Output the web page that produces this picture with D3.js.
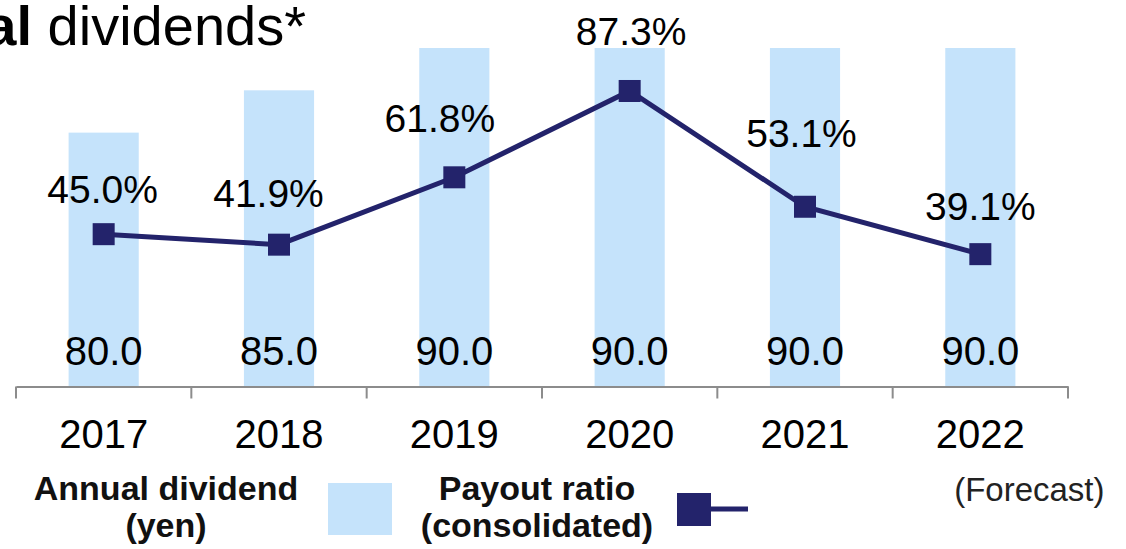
<!DOCTYPE html>
<html>
<head>
<meta charset="utf-8">
<script src="https://cdn.jsdelivr.net/npm/d3@7"></script>
<style>
  html, body { margin: 0; padding: 0; background: #fff; }
  text { font-family: "Liberation Sans", Arial, sans-serif; }
</style>
</head>
<body>
<div id="chart"></div>
<script>
// chart data
var years = ["2017", "2018", "2019", "2020", "2021", "2022"];
var dividends = [80.0, 85.0, 90.0, 90.0, 90.0, 90.0];
var payoutRatios = [45.0, 41.9, 61.8, 87.3, 53.1, 39.1];
var forecastNote = "(Forecast)";
var dividendLegend = ["Annual dividend", "(yen)"];
var payoutLegend = ["Payout ratio", "(consolidated)"];

var width = 1126,
    height = 549,
    axisY = 386.5;

var barColor = "#c5e3fb",
    lineColor = "#23236b";

var svg = d3.select("#chart").append("svg")
    .attr("width", width)
    .attr("height", height);

// set the ranges
var x = d3.scaleBand()
    .domain(years)
    .range([16, 1068]);
var yBar = d3.scaleLinear()
    .domain([50, 90])
    .range([axisY, 48]);
var yLine = d3.scaleLinear()
    .domain([0, 100])
    .range([axisY, 48]);

var barW = x.bandwidth() * 0.4;
function cx(d) { return x(d) + x.bandwidth() / 2; }

// title, cut off at the left edge like the original
svg.append("text")
    .attr("x", 306)
    .attr("y", 45)
    .attr("text-anchor", "end")
    .style("font-size", "56px")
    .call(function (t) {
        t.append("tspan").style("font-weight", "bold").text("Annual");
        t.append("tspan").text(" dividends*");
    });

// bars
svg.selectAll(".bar")
    .data(years)
    .enter().append("rect")
    .attr("class", "bar")
    .attr("x", function (d) { return cx(d) - barW / 2; })
    .attr("width", barW)
    .attr("y", function (d, i) { return yBar(dividends[i]); })
    .attr("height", function (d, i) { return axisY - yBar(dividends[i]); })
    .attr("fill", barColor);

// dividend labels sit at the bottom of each bar
svg.selectAll(".barLabel")
    .data(years)
    .enter().append("text")
    .attr("class", "barLabel")
    .attr("x", cx)
    .attr("y", 365)
    .attr("text-anchor", "middle")
    .style("font-size", "40px")
    .text(function (d, i) { return d3.format(".1f")(dividends[i]); });

// x axis with ticks between the categories
var axis = svg.append("g")
    .attr("transform", "translate(0," + axisY + ")")
    .call(d3.axisBottom(x).tickSize(0).tickPadding(0).tickFormat(""));
axis.select(".domain").attr("stroke", "#8c8c8c").attr("stroke-width", 2);
axis.selectAll(".sep")
    .data(years.concat(["end"]))
    .enter().append("line")
    .attr("class", "sep")
    .attr("x1", function (d, i) { return i < years.length ? x(d) : x.range()[1]; })
    .attr("x2", function (d, i) { return i < years.length ? x(d) : x.range()[1]; })
    .attr("y1", 0)
    .attr("y2", 12)
    .attr("stroke", "#8c8c8c")
    .attr("stroke-width", 2);

svg.selectAll(".year")
    .data(years)
    .enter().append("text")
    .attr("class", "year")
    .attr("x", cx)
    .attr("y", 448)
    .attr("text-anchor", "middle")
    .style("font-size", "40px")
    .text(function (d) { return d; });

svg.append("text")
    .attr("x", cx(years[years.length - 1]) + 49)
    .attr("y", 501)
    .attr("text-anchor", "middle")
    .style("font-size", "33px")
    .style("fill", "#222")
    .text(forecastNote);

// payout ratio line
var line = d3.line()
    .x(function (d) { return cx(d); })
    .y(function (d, i) { return yLine(payoutRatios[i]); });

svg.append("path")
    .datum(years)
    .attr("d", line)
    .attr("fill", "none")
    .attr("stroke", lineColor)
    .attr("stroke-width", 5);

var mk = 22;
svg.selectAll(".marker")
    .data(years)
    .enter().append("rect")
    .attr("class", "marker")
    .attr("x", function (d) { return cx(d) - mk / 2; })
    .attr("y", function (d, i) { return yLine(payoutRatios[i]) - mk / 2; })
    .attr("width", mk)
    .attr("height", mk)
    .attr("fill", lineColor);

// label nudges, as hand-placed in the original
var nudgeX = [-1, -10.5, -14.5, 1.5, -3.5, 0];
var nudgeY = [-31, -37.5, -45.5, -46, -59.5, -34];
svg.selectAll(".pctLabel")
    .data(years)
    .enter().append("text")
    .attr("class", "pctLabel")
    .attr("x", function (d, i) { return cx(d) + nudgeX[i]; })
    .attr("y", function (d, i) { return yLine(payoutRatios[i]) + nudgeY[i]; })
    .attr("text-anchor", "middle")
    .style("font-size", "39px")
    .text(function (d, i) { return d3.format(".1f")(payoutRatios[i]) + "%"; });

// legend
var legend = svg.append("g").style("font-weight", "bold").style("font-size", "34px").style("fill", "#111");
legend.selectAll(".lg1")
    .data(dividendLegend)
    .enter().append("text")
    .attr("x", 166)
    .attr("y", function (d, i) { return 500 + i * 37; })
    .attr("text-anchor", "middle")
    .text(function (d) { return d; });
legend.append("rect")
    .attr("x", 328).attr("y", 483)
    .attr("width", 64).attr("height", 52)
    .attr("fill", barColor);
legend.selectAll(".lg2")
    .data(payoutLegend)
    .enter().append("text")
    .attr("x", 537)
    .attr("y", function (d, i) { return 500 + i * 37; })
    .attr("text-anchor", "middle")
    .text(function (d) { return d; });
legend.append("line")
    .attr("x1", 700).attr("x2", 748)
    .attr("y1", 509).attr("y2", 509)
    .attr("stroke", lineColor)
    .attr("stroke-width", 5);
legend.append("rect")
    .attr("x", 677).attr("y", 493)
    .attr("width", 34).attr("height", 33)
    .attr("fill", lineColor);
</script>
</body>
</html>
